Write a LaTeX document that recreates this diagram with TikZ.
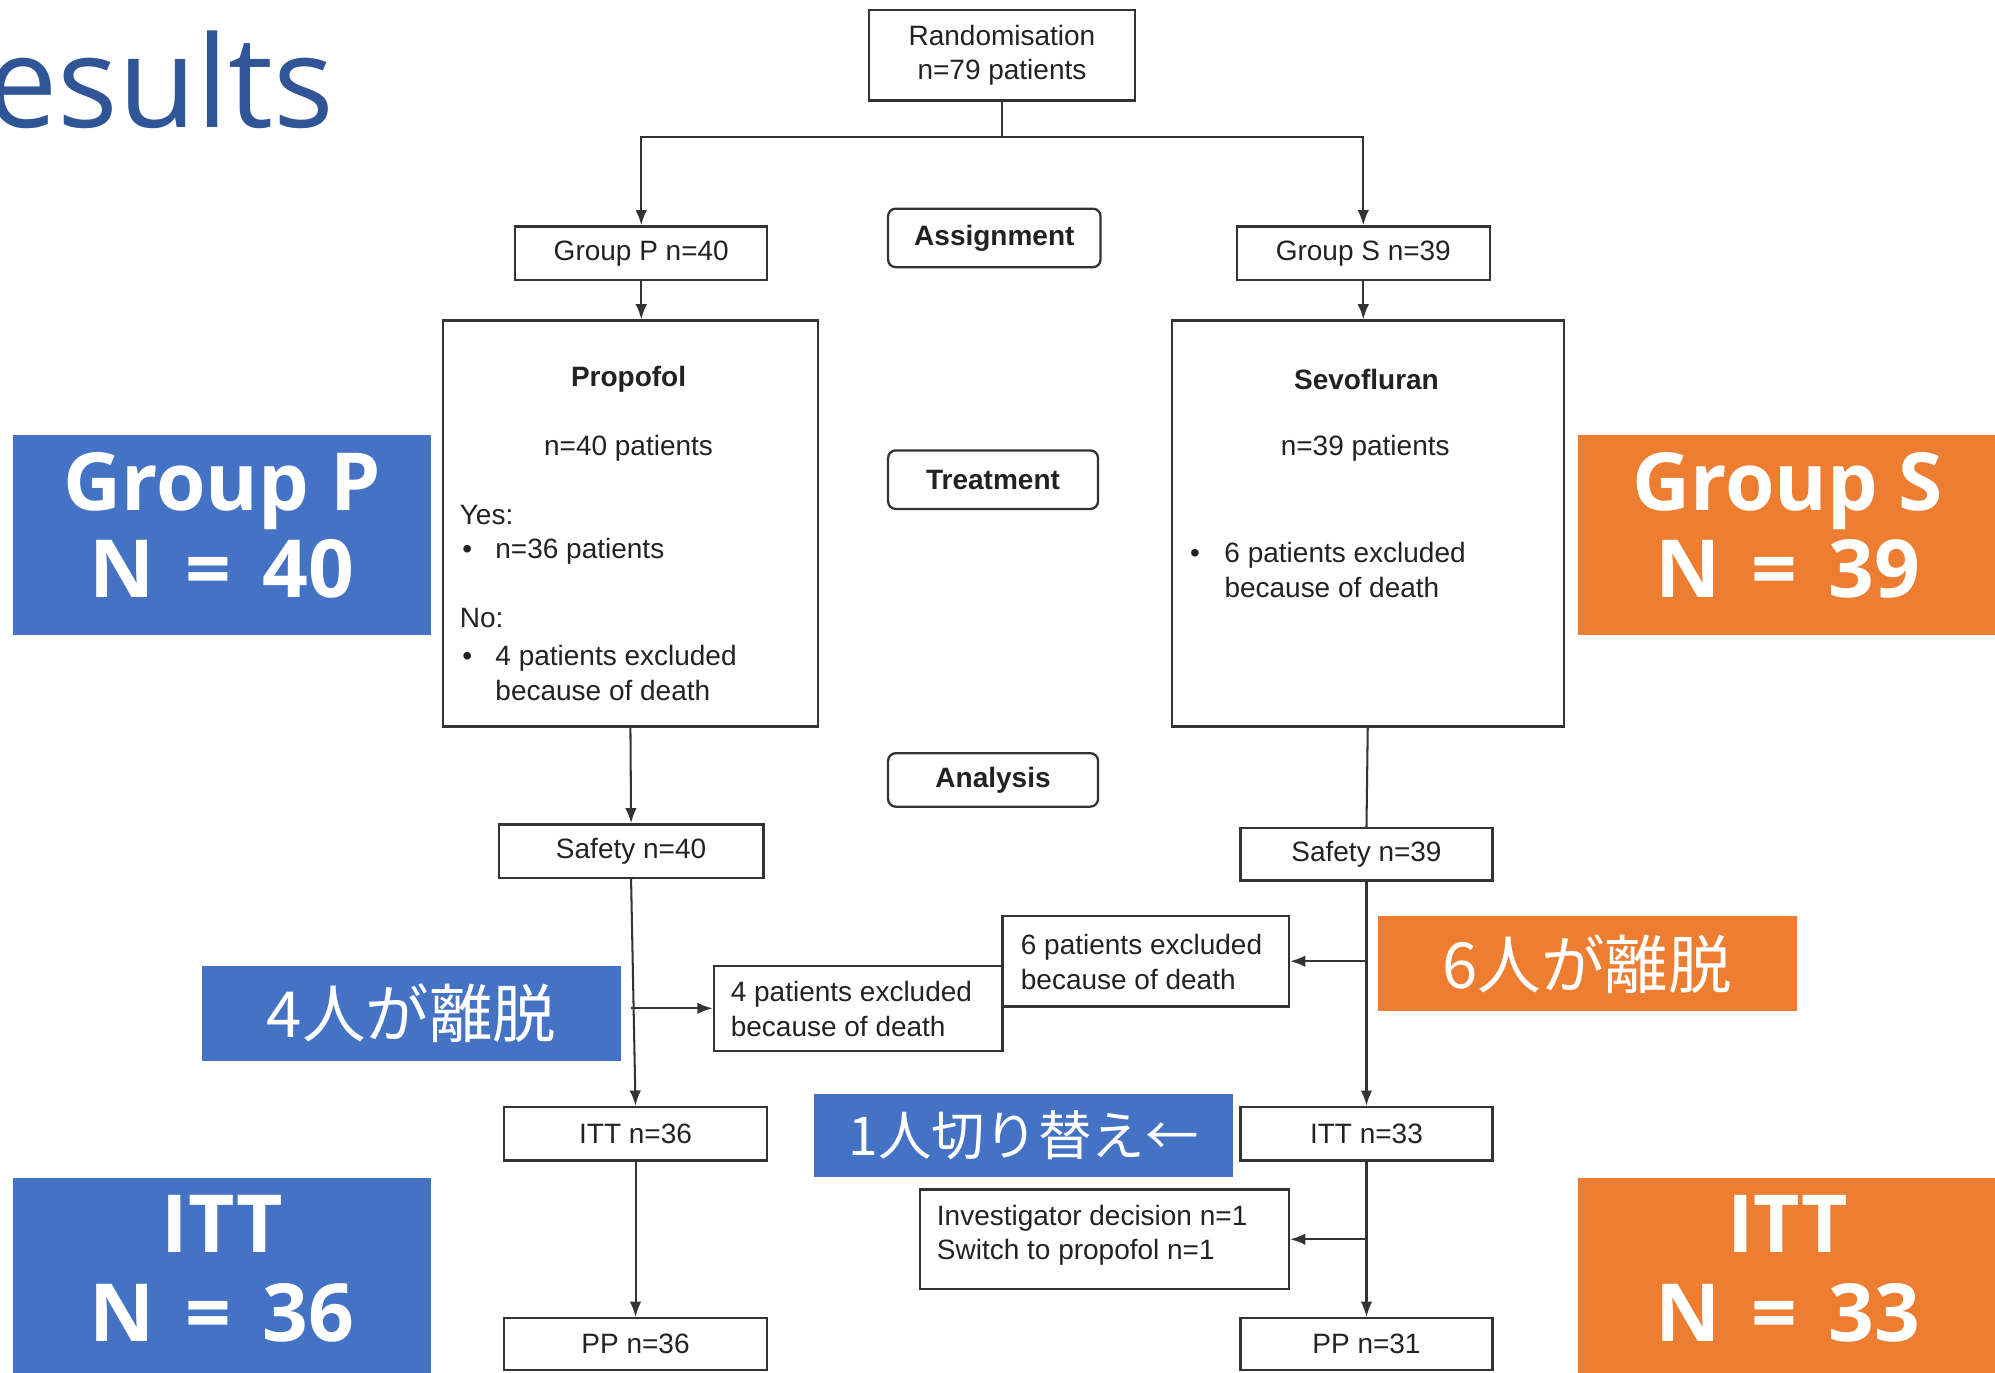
\documentclass[tikz,border=0pt]{standalone}
\usepackage{fontspec}
\setmainfont{Liberation Sans}
\newfontfamily\opensans{Open Sans}
\newfontfamily\cjk{Noto Sans CJK JP}
\usetikzlibrary{arrows.meta}
\definecolor{pblue}{HTML}{4472C4}
\definecolor{sorange}{HTML}{ED7D31}
\definecolor{titleblue}{HTML}{2F5597}
\definecolor{lncol}{HTML}{333333}
\definecolor{txtcol}{HTML}{222222}
\newcommand{\eqsp}{\ \hspace{4pt}=\hspace{4pt}\ }
\begin{document}
\begin{tikzpicture}[x=0.5pt,y=-0.5pt,
  sz/.style 2 args={minimum width=#1*0.5pt, minimum height=#2*0.5pt},
  box/.style={draw=lncol, line width=0.9pt, inner sep=0pt, font=\fontsize{11}{13.5}\selectfont, text=txtcol, align=center},
  rbox/.style={box, rounded corners=3pt, font=\fontsize{11}{13.5}\selectfont\bfseries},
  st/.style={font=\fontsize{11}{13.5}\selectfont, inner sep=0pt, text=txtcol},
  stb/.style={font=\fontsize{11}{13.5}\selectfont\bfseries, inner sep=0pt, text=txtcol},
  conn/.style={draw=lncol, line width=0.8pt},
  arr/.style={draw=lncol, line width=0.8pt, -{Latex[length=6pt,width=4.5pt]}},
  bluebox/.style={fill=pblue, draw=none, inner sep=0pt},
  orangebox/.style={fill=sorange, draw=none, inner sep=0pt},
  big/.style={font=\opensans\bfseries\fontsize{31.5}{34.5}\selectfont, text=white, align=center, inner sep=0pt},
  jp/.style={font=\cjk\fontsize{25}{29}\selectfont, text=white, inner sep=0pt}
]
\useasboundingbox (0,0) rectangle (1568,1079);
\fill[white] (0,0) rectangle (1568,1079);

% title
\begin{scope}
\clip (0,0) rectangle (1568,1079);
\node[anchor=base east, font=\opensans\fontsize{50}{60}\selectfont, text=titleblue, inner sep=0pt] (title) at (263,100) {Results};
\end{scope}

% flowchart boxes
\node[box, sz={209}{71}] (rand) at (787.5,43.5) {Randomisation\\n=79 patients};
\node[box, sz={198}{42}] (gp) at (504,199) {Group P n=40};
\node[rbox, sz={167}{46}] (asg) at (781.5,187) {Assignment};
\node[box, sz={199}{42}] (gs) at (1071.5,199) {Group S n=39};
\node[box, sz={295}{319}] (prop) at (495.5,411.5) {};
\node[box, sz={308}{319}] (sevo) at (1075,411.5) {};
\node[rbox, sz={165}{46}] (trt) at (780.5,377) {Treatment};
\node[rbox, sz={165}{42}] (ana) at (780.5,613) {Analysis};
\node[box, sz={208}{42}] (safP) at (496,669) {Safety n=40};
\node[box, sz={198}{41}] (safS) at (1074,671.5) {Safety n=39};
\node[box, sz={225}{71}] (ex6) at (900.5,755.5) {};
\node[box, sz={227}{67}] (ex4) at (674.5,792.5) {};
\node[box, sz={207}{42}] (ittP) at (499.5,891) {ITT n=36};
\node[box, sz={198}{42}] (ittS) at (1074,891) {ITT n=33};
\node[box, sz={290}{78}] (inv) at (868,974) {};
\node[box, sz={207}{41}] (ppP) at (499.5,1056.5) {PP n=36};
\node[box, sz={198}{41}] (ppS) at (1074,1056.5) {PP n=31};

% Propofol box text
\node[stb] (propT) at (494,298) {Propofol};
\node[st] (propN) at (494,352) {n=40 patients};
\node[st, anchor=west] (propY) at (361,405) {Yes:};
\node[st, anchor=west] (propY1) at (363,433) {\textbullet\hspace{9.15pt}n=36 patients};
\node[st, anchor=west] (propNo) at (361,486) {No:};
\node[st, anchor=west, align=left] (propNo1) at (363,529) {\textbullet\hspace{9.15pt}4 patients excluded\\\hphantom{\textbullet\hspace{9.15pt}}because of death};

% Sevofluran box text
\node[stb] (sevoT) at (1074,298) {Sevofluran};
\node[st] (sevoN) at (1073,352) {n=39 patients};
\node[st, anchor=west, align=left] (sevo1) at (935,448) {\textbullet\hspace{9.65pt}6 patients excluded\\\hphantom{\textbullet\hspace{9.65pt}}because of death};

% exclusion box texts
\node[st, anchor=west, align=left] (ex6T) at (802,756) {6 patients excluded\\because of death};
\node[st, anchor=west, align=left] (ex4T) at (574,793) {4 patients excluded\\because of death};
\node[st, anchor=west, align=left] (invT) at (736,971) {Investigator decision n=1\\Switch to propofol n=1};

% connectors
\coordinate (split) at (787.5,108);
\draw[conn] (rand.south) -- (split);
\draw[arr] (split) -| (gp.north);
\draw[arr] (split) -| (gs.north);
\draw[arr] (gp.south) -- (gp.south |- prop.north);
\draw[arr] (gs.south) -- (gs.south |- sevo.north);
\draw[arr] (prop.south) -- (safP.north);
\draw[conn] (sevo.south) -- (safS.north);
\draw[arr] (safP.south) -- (ittP.north);
\draw[arr] (safP.south |- ex4.west) -- (ex4.west);
\draw[arr] (safS.south) -- (ittS.north);
\draw[arr] (safS.south |- ex6.east) -- (ex6.east);
\draw[arr] (ittP.south) -- (ppP.north);
\draw[arr] (ittS.south) -- (ppS.north);
\draw[arr] (ittS.south |- inv.east) -- (inv.east);

% coloured overlay boxes
\node[bluebox, sz={329}{157}] (cP) at (174.5,420.5) {};
\node[big] (cPT) at (174.5,413) {Group P\\N\eqsp 40};
\node[orangebox, sz={328}{157}] (cS) at (1404,420.5) {};
\node[big] (cST) at (1405,413) {Group S\\N\eqsp 39};
\node[bluebox, sz={329}{75}] (c4) at (323.5,796.5) {};
\node[jp] (c4T) at (c4) {4人が離脱};
\node[orangebox, sz={329}{75}] (c6) at (1247.5,757.5) {};
\node[jp] (c6T) at (c6) {6人が離脱};
\node[bluebox, sz={329}{65}] (c1) at (804.5,892.5) {};
\node[jp, font=\cjk\fontsize{21}{25}\selectfont] (c1T) at (c1) {1人切り替え←};
\node[bluebox, sz={329}{153}] (cI) at (174.5,1002.5) {};
\node[big, font=\opensans\bfseries\fontsize{31.5}{35}\selectfont] (cIT) at (174.5,997) {ITT\\N\eqsp 36};
\node[orangebox, sz={328}{153}] (cI2) at (1404,1002.5) {};
\node[big, font=\opensans\bfseries\fontsize{31.5}{35}\selectfont] (cI2T) at (1405,997) {ITT\\N\eqsp 33};
\end{tikzpicture}
\end{document}
